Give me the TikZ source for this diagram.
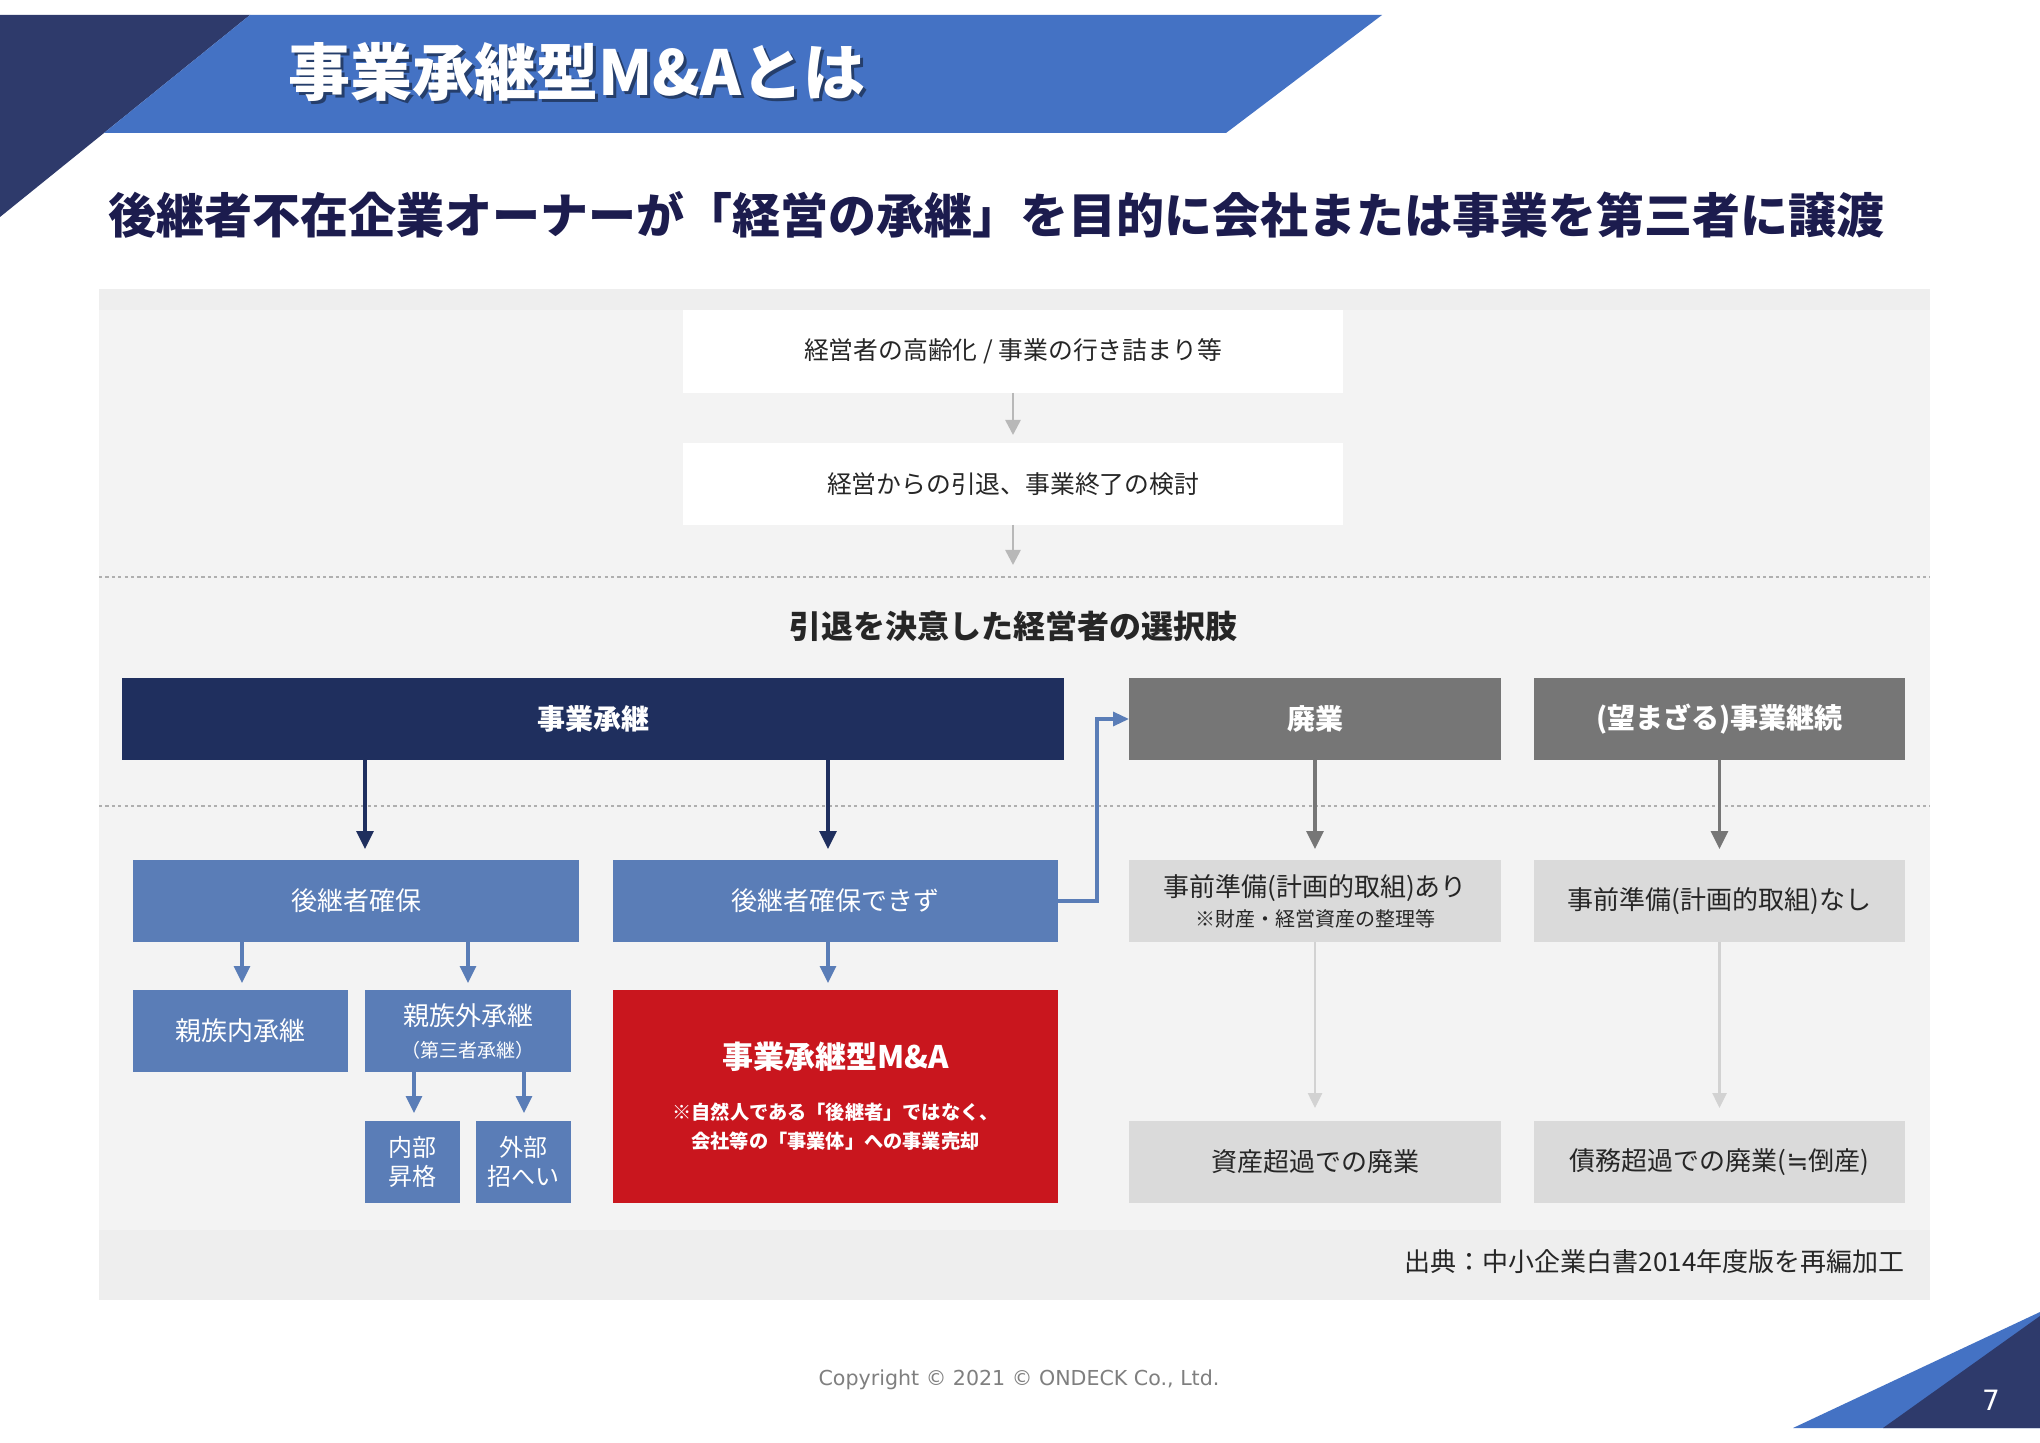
\documentclass[tikz,border=0pt]{standalone}
\usepackage{fontspec}
\setmainfont{Noto Sans CJK JP}
\newfontfamily\latinsans{DejaVu Sans}
\usetikzlibrary{arrows.meta}
\definecolor{bannerblue}{HTML}{4472C4}
\definecolor{cornernavy}{HTML}{2E3A6B}
\definecolor{subnavy}{HTML}{1C1C4E}
\definecolor{panel}{HTML}{F3F3F3}
\definecolor{panelband}{HTML}{EEEEEE}
\definecolor{hsnavy}{HTML}{1F2F5E}
\definecolor{steel}{HTML}{5A7DB7}
\definecolor{mred}{HTML}{C9161E}
\definecolor{darkgray}{HTML}{767676}
\definecolor{lgbox}{HTML}{DADADA}
\definecolor{lgarrow}{HTML}{D2D2D2}
\definecolor{toparrow}{HTML}{B8B8B8}
\definecolor{txt}{HTML}{262626}
\definecolor{dashc}{HTML}{AFAFAF}
\definecolor{copyc}{HTML}{7F7F7F}
\begin{document}
\begin{tikzpicture}[x=0.5pt,y=-0.5pt,
  bx/.style={anchor=north west, inner sep=0pt, outer sep=0pt, align=center},
  whitebox/.style={bx, fill=white, text=txt, font=\fontsize{12.4}{14}\selectfont},
  headnavy/.style={bx, fill=hsnavy, text=white, font=\bfseries\fontsize{14}{17}\selectfont},
  headgray/.style={bx, fill=darkgray, text=white, font=\bfseries\fontsize{14}{17}\selectfont},
  steelbox/.style={bx, fill=steel, text=white, font=\fontsize{13}{16}\selectfont},
  lightbox/.style={bx, fill=lgbox, text=txt, font=\fontsize{13}{16}\selectfont},
  navyarr/.style={draw=hsnavy, line width=1.6pt, -{Triangle[width=8.5pt,length=9pt]}},
  bluearr/.style={draw=steel, line width=1.6pt, -{Triangle[width=8pt,length=8.5pt]}},
  grayarr/.style={draw=darkgray, line width=1.6pt, -{Triangle[width=8.5pt,length=9pt]}},
  lgarr/.style={draw=lgarrow, line width=1.3pt, -{Triangle[width=7pt,length=7.5pt]}},
  toparr/.style={draw=toparrow, line width=1.3pt, -{Triangle[width=7.5pt,length=7.5pt]}},
  dashline/.style={draw=dashc, line width=0.6pt, dash pattern=on 1.6pt off 1.6pt}
]
\useasboundingbox (0,0) rectangle (2040,1443);
\fill[white] (0,0) rectangle (2040,1443);
% header banner
\fill[cornernavy] (0,15) -- (250,15) -- (0,217) -- cycle;
\fill[bannerblue] (250,15) -- (1382,15) -- (1226,133) -- (104,133) -- cycle;
\node[anchor=west, inner sep=0pt, text=black, opacity=0.45, font=\bfseries\fontsize{31}{36}\selectfont] (titleshadow) at (291,75) {事業承継型M\&Aとは};
\node[anchor=west, inner sep=0pt, text=white, font=\bfseries\fontsize{31}{36}\selectfont] (title) at (288,72) {事業承継型M\&Aとは};
\node[anchor=west, inner sep=0pt, text=subnavy, font=\bfseries\fontsize{24}{28}\selectfont] (subtitle) at (108,215) {後継者不在企業オーナーが「経営の承継」を目的に会社または事業を第三者に譲渡};
% panel
\fill[panel] (99,289) rectangle (1930,1300);
\fill[panelband] (99,289) rectangle (1930,310);
\fill[panelband] (99,1230) rectangle (1930,1300);
% top flow
\node[whitebox, minimum width=330pt, minimum height=41.5pt] (b1) at (683,310) {経営者の高齢化 / 事業の行き詰まり等};
\node[whitebox, minimum width=330pt, minimum height=41pt] (b2) at (683,443) {経営からの引退、事業終了の検討};
\coordinate (b2end) at (1013,565);
\draw[toparr, shorten >=4pt] (b1.south) -- (b2.north);
\draw[toparr] (b2.south) -- (b2end);
\draw[dashline] (99,577) -- (1930,577);
\node[text=txt, font=\bfseries\fontsize{16}{19}\selectfont] (heading) at (1013,626) {引退を決意した経営者の選択肢};
% header row
\node[headnavy, minimum width=471pt, minimum height=41pt] (hs) at (122,678) {事業承継};
\node[headgray, minimum width=186pt, minimum height=41pt] (hb) at (1129,678) {廃業};
\node[headgray, minimum width=185.5pt, minimum height=41pt] (hk) at (1534,678) {(望まざる)事業継続};
\draw[dashline] (99,806) -- (1930,806);
% second row
\node[steelbox, minimum width=223pt, minimum height=41pt] (s1) at (133,860) {後継者確保};
\node[steelbox, minimum width=222.5pt, minimum height=41pt] (s2) at (613,860) {後継者確保できず};
\node[lightbox, minimum width=186pt, minimum height=41pt, font=\fontsize{10}{15}\selectfont] (p1) at (1129,860) {{\fontsize{13}{15}\selectfont 事前準備(計画的取組)あり}\\{\fontsize{10}{12}\selectfont ※財産・経営資産の整理等}};
\node[lightbox, minimum width=185.5pt, minimum height=41pt] (p2) at (1534,860) {事前準備(計画的取組)なし};
% third row
\node[steelbox, minimum width=107.5pt, minimum height=41pt] (t1) at (133,990) {親族内承継};
\node[steelbox, minimum width=103pt, minimum height=41pt, font=\fontsize{9.5}{16}\selectfont] (t2) at (365,990) {{\fontsize{13}{15}\selectfont 親族外承継}\\{\fontsize{9.5}{12}\selectfont （第三者承継）}};
\node[bx, fill=mred, text=white, minimum width=222.5pt, minimum height=106.5pt, font=\bfseries\fontsize{9.6}{14.5}\selectfont] (ma) at (613,990) {{\fontsize{15.5}{18}\selectfont 事業承継型M\&A}\\[11pt]※自然人である「後継者」ではなく、\\会社等の「事業体」への事業売却};
% fourth row
\node[steelbox, minimum width=47.5pt, minimum height=41pt, font=\fontsize{12}{14.5}\selectfont] (u1) at (365,1121) {内部\\昇格};
\node[steelbox, minimum width=47.5pt, minimum height=41pt, font=\fontsize{12}{14.5}\selectfont] (u2) at (476,1121) {外部\\招へい};
\node[lightbox, minimum width=186pt, minimum height=41pt] (e1) at (1129,1121) {資産超過での廃業};
\node[lightbox, minimum width=185.5pt, minimum height=41pt] (e2) at (1534,1121) {債務超過での廃業({\latinsans ≒}倒産)};
% arrow x positions
\coordinate (xa) at (365,0);
\coordinate (xb) at (828,0);
\coordinate (xc) at (242,0);
\coordinate (xd) at (468,0);
\coordinate (xe) at (414,0);
\coordinate (xf) at (524,0);
\coordinate (cv) at (1097,719);
\draw[navyarr, shorten >=5.5pt] (hs.south -| xa) -- (s1.north -| xa);
\draw[navyarr, shorten >=5.5pt] (hs.south -| xb) -- (s2.north -| xb);
\draw[bluearr, shorten >=3.5pt] (s1.south -| xc) -- (t1.north -| xc);
\draw[bluearr, shorten >=3.5pt] (s1.south -| xd) -- (t2.north -| xd);
\draw[bluearr, shorten >=4pt] (t2.south -| xe) -- (u1.north -| xe);
\draw[bluearr, shorten >=4pt] (t2.south -| xf) -- (u2.north -| xf);
\draw[bluearr, shorten >=3.5pt] (s2.south -| xb) -- (ma.north -| xb);
\draw[steel, line width=1.6pt, -{Triangle[width=7pt,length=8pt]}] (s2.east) -| (cv) -- (hb.west);
\draw[grayarr, shorten >=5.5pt] (hb.south) -- (p1.north);
\draw[grayarr, shorten >=5.5pt] (hk.south) -- (p2.north);
\draw[lgarr, shorten >=6.5pt] (p1.south) -- (e1.north);
\draw[lgarr, shorten >=6.5pt] (p2.south) -- (e2.north);
% source
\node[anchor=east, inner sep=0pt, text=txt, font=\fontsize{13}{15}\selectfont] (src) at (1905,1262) {出典：中小企業白書2014年度版を再編加工};
% footer
\node[text=copyc, font=\latinsans\fontsize{10.3}{12}\selectfont] (copy) at (1019,1380) {Copyright © 2021 © ONDECK Co., Ltd.};
\fill[bannerblue] (1793,1428) -- (2040,1312) -- (2040,1428) -- cycle;
\fill[cornernavy] (1883,1428) -- (2040,1316) -- (2040,1428) -- cycle;
\node[text=white, font=\latinsans\fontsize{14}{16}\selectfont] (pagenum) at (1991,1400) {7};
\end{tikzpicture}
\end{document}
